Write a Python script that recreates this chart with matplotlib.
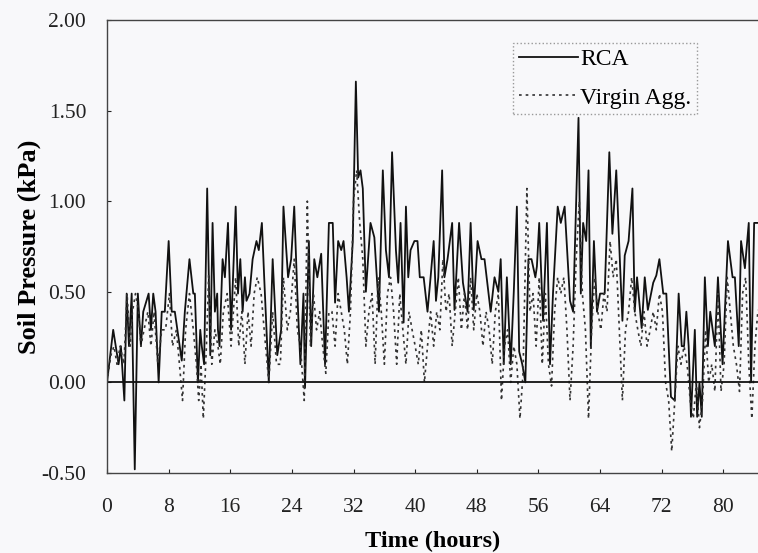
import numpy as np
import matplotlib.pyplot as plt

plt.rcParams['font.family'] = ['Liberation Serif', 'DejaVu Serif']

# RCA readings (time in hours, soil pressure in kPa)
rca_t = [0.0, 0.8, 1.5, 1.8, 2.25, 2.55, 2.85, 3.2, 3.6, 4.0, 4.4, 4.7, 5.4, 5.7,
         6.0, 6.3, 6.7, 7.1, 7.5, 8.0, 8.4, 8.8, 9.7, 10.1, 10.7, 11.2, 11.4, 11.8,
         12.1, 12.3, 12.6, 13.0, 13.4, 13.7, 14.0, 14.3, 14.4, 14.6, 15.0, 15.3,
         15.7, 16.1, 16.7, 17.0, 17.3, 17.6, 17.9, 18.1, 18.5, 18.9, 19.4, 19.7,
         20.1, 20.4, 21.0, 21.5, 22.1, 22.6, 22.9, 23.5, 23.9, 24.3, 24.7, 25.1,
         25.5, 25.7, 26.2, 26.5, 26.9, 27.3, 27.8, 28.3, 28.8, 29.3, 29.6, 30.0,
         30.4, 30.7, 31.1, 31.4, 31.9, 32.3, 32.6, 32.9, 33.2, 33.6, 34.2, 34.7,
         35.3, 35.8, 36.2, 36.6, 37.0, 37.5, 37.8, 38.1, 38.5, 38.8, 39.1, 39.4,
         39.9, 40.3, 40.6, 41.1, 41.6, 42.0, 42.4, 42.7, 43.0, 43.5, 43.8, 44.2,
         44.8, 45.1, 45.7, 46.2, 46.8, 47.2, 47.6, 48.1, 48.6, 49.0, 49.8, 50.3,
         50.8, 51.1, 51.5, 51.9, 52.4, 52.8, 53.2, 53.5, 53.9, 54.3, 54.7, 55.1,
         55.6, 55.8, 56.1, 56.6, 57.1, 57.5, 57.9, 58.5, 58.9, 59.4, 60.1, 60.5,
         61.2, 61.5, 61.8, 62.2, 62.5, 62.8, 63.2, 63.6, 64.0, 64.6, 65.2, 65.6,
         66.1, 66.6, 66.9, 67.2, 67.7, 68.2, 68.5, 68.8, 69.4, 69.8, 70.2, 70.9,
         71.3, 71.7, 72.2, 72.6, 73.2, 73.7, 74.2, 74.6, 74.9, 75.2, 75.5, 75.8,
         76.3, 76.6, 76.9, 77.2, 77.6, 78.0, 78.3, 78.9, 79.3, 79.9, 80.6, 81.2,
         81.5, 82.0, 82.3, 82.8, 83.3, 83.6, 84.0, 84.5]
rca = [0.0, 0.29, 0.1, 0.2, -0.1, 0.49, 0.2, 0.49, -0.48, 0.49, 0.2, 0.39, 0.49, 0.29,
       0.49, 0.39, 0.0, 0.39, 0.39, 0.78, 0.39, 0.39, 0.12, 0.39, 0.68, 0.49, 0.49, 0.0,
       0.29, 0.2, 0.1, 1.07, 0.15, 0.88, 0.39, 0.49, 0.29, 0.2, 0.68, 0.58,
       0.88, 0.29, 0.97, 0.49, 0.68, 0.39, 0.58, 0.45, 0.49, 0.68, 0.78, 0.73,
       0.88, 0.58, 0.0, 0.68, 0.15, 0.29, 0.97, 0.58, 0.68, 0.97, 0.49, 0.1,
       0.49, -0.03, 0.78, 0.2, 0.68, 0.58, 0.71, 0.1, 0.88, 0.88, 0.44, 0.78,
       0.73, 0.78, 0.58, 0.39, 0.78, 1.66, 1.13, 1.17, 1.07, 0.5, 0.88, 0.8,
       0.39, 1.17, 0.73, 0.58, 1.27, 0.73, 0.55, 0.88, 0.33, 0.97, 0.58, 0.73,
       0.78, 0.78, 0.58, 0.58, 0.39, 0.58, 0.78, 0.45, 0.58, 1.17, 0.58, 0.68,
       0.88, 0.4, 0.88, 0.55, 0.39, 0.88, 0.4, 0.78, 0.68, 0.68, 0.39, 0.58,
       0.5, 0.68, 0.1, 0.58, 0.1, 0.5, 0.97, 0.17, 0.1, 0.0, 0.68, 0.68,
       0.58, 0.64, 0.88, 0.34, 0.88, 0.1, 0.5, 0.97, 0.88, 0.97, 0.45, 0.39,
       1.46, 0.49, 0.88, 0.78, 1.17, 0.19, 0.78, 0.39, 0.49, 0.49, 1.27, 0.82,
       1.17, 0.64, 0.34, 0.7, 0.78, 1.07, 0.39, 0.58, 0.3, 0.58, 0.4, 0.55,
       0.59, 0.68, 0.49, 0.49, -0.08, -0.1, 0.49, 0.2, 0.2, 0.39, 0.2, -0.19,
       0.29, -0.19, 0.0, -0.19, 0.58, 0.2, 0.39, 0.2, 0.58, 0.1, 0.78, 0.58,
       0.58, 0.2, 0.78, 0.63, 0.88, 0.0, 0.88, 0.88]

# Virgin aggregate readings
vir_t = [0.0, 0.5, 0.9, 1.3, 1.7, 2.2, 2.6, 3.0, 3.3, 3.7, 4.1, 4.4, 4.8, 5.3, 5.7,
         6.1, 6.6, 7.1, 7.6, 8.1, 8.5, 9.0, 9.4, 9.8, 10.2, 10.7, 11.2, 11.6, 11.9,
         12.2, 12.5, 12.9, 13.2, 13.6, 14.0, 14.4, 14.7, 15.1, 15.6, 16.1, 16.7,
         17.1, 17.5, 17.9, 18.3, 18.7, 19.1, 19.5, 20.0, 20.4, 21.0, 21.5, 22.0,
         22.5, 22.9, 23.4, 23.8, 24.3, 24.7, 25.1, 25.6, 26.0, 26.4, 26.8, 27.2,
         27.6, 28.0, 28.4, 28.8, 29.2, 29.6, 30.0, 30.4, 30.8, 31.2, 31.6, 32.0,
         32.4, 32.8, 33.2, 33.6, 34.0, 34.4, 34.8, 35.2, 35.6, 36.0, 36.4, 36.8,
         37.2, 37.6, 38.0, 38.4, 38.8, 39.2, 39.6, 40.0, 40.4, 40.8, 41.2, 41.6,
         42.0, 42.4, 42.8, 43.2, 43.6, 44.0, 44.4, 44.8, 45.2, 45.6, 46.0, 46.4,
         46.8, 47.2, 47.6, 48.0, 48.4, 48.8, 49.2, 49.6, 50.0, 50.4, 50.8, 51.2,
         51.6, 52.0, 52.4, 52.8, 53.2, 53.6, 54.0, 54.5, 54.9, 55.3, 55.7, 56.1,
         56.5, 56.9, 57.3, 57.7, 58.1, 58.5, 58.9, 59.3, 59.7, 60.1, 60.5, 60.9,
         61.3, 61.7, 62.1, 62.5, 62.9, 63.3, 63.7, 64.1, 64.5, 64.9, 65.3, 65.7,
         66.1, 66.5, 66.9, 67.3, 67.7, 68.1, 68.5, 68.9, 69.3, 69.7, 70.1, 70.5,
         70.9, 71.3, 71.7, 72.1, 72.5, 72.9, 73.3, 73.7, 74.1, 74.5, 74.9, 75.3,
         75.7, 76.1, 76.5, 76.9, 77.3, 77.7, 78.1, 78.5, 78.9, 79.3, 79.7, 80.1,
         80.5, 80.9, 81.3, 81.7, 82.1, 82.5, 82.9, 83.3, 83.7, 84.1, 84.5]
vir = [0.0, 0.15, 0.2, 0.1, 0.2, 0.1, 0.49, 0.2, 0.39, 0.49, 0.39, 0.2, 0.29, 0.39, 0.2,
       0.39, 0.1, 0.29, 0.29, 0.49, 0.2, 0.29, 0.1, -0.1, 0.29, 0.49, 0.29, 0.1, -0.1,
       0.1, -0.2, 0.2, 0.6, 0.1, 0.29, 0.2, 0.1, 0.39, 0.49, 0.2, 0.58,
       0.2, 0.39, 0.1, 0.39, 0.2, 0.49, 0.58, 0.49, 0.29, 0.0, 0.39, 0.1,
       0.1, 0.58, 0.29, 0.39, 0.68, 0.29, 0.2, -0.1, 1.0, 0.2, 0.49, 0.29,
       0.39, 0.2, 0.05, 0.39, 0.39, 0.2, 0.49, 0.39, 0.29, 0.1, 0.39, 1.0,
       1.17, 0.88, 0.68, 0.2, 0.39, 0.49, 0.1, 0.58, 0.39, 0.1, 0.49, 0.58,
       0.39, 0.1, 0.49, 0.29, 0.1, 0.39, 0.29, 0.2, 0.1, 0.29, 0.0, 0.2,
       0.39, 0.2, 0.39, 0.29, 0.68, 0.39, 0.49, 0.2, 0.39, 0.58, 0.29, 0.49,
       0.29, 0.58, 0.29, 0.49, 0.39, 0.2, 0.39, 0.29, 0.1, 0.39, 0.49, -0.1,
       0.2, 0.29, 0.0, 0.2, 0.1, -0.2, 0.05, 1.07, 0.39, 0.49, 0.2, 0.58,
       0.1, 0.49, 0.1, -0.02, 0.39, 0.58, 0.49, 0.58, 0.29, -0.1, 0.2, 0.68,
       1.0, 0.49, 0.29, -0.2, 0.29, 0.58, 0.39, 0.29, 0.49, 0.39, 0.78, 0.58,
       0.68, 0.29, -0.1, 0.29, 0.39, 0.58, 0.39, 0.29, 0.2, 0.39, 0.2, 0.29,
       0.39, 0.29, 0.49, 0.39, 0.0, -0.1, -0.38, -0.1, 0.2, 0.1, 0.2, 0.1,
       -0.1, -0.2, 0.0, -0.25, -0.1, 0.29, 0.0, 0.1, -0.05, 0.49, -0.05, 0.1,
       0.58, 0.39, 0.2, 0.1, -0.05, 0.49, 0.58, 0.1, -0.2, 0.2, 0.4]

xticks = [0, 8, 16, 24, 32, 40, 48, 56, 64, 72, 80]
yticks = [-0.5, 0.0, 0.5, 1.0, 1.5, 2.0]

fig = plt.figure(figsize=(7.58, 5.53), dpi=100, facecolor='#f8f8fa')
ax = fig.add_axes([0.1412, 0.1447, 0.8588, 0.8192], facecolor='#f8f8fa')

ax.plot(rca_t, rca, color='#111111', lw=1.3, label='RCA')
ax.plot(vir_t, vir, color='#333333', lw=1.2, dashes=(1.6, 2.4), label='Virgin Agg.')
ax.axhline(0, color='#111111', lw=1.3)

ax.set_xlim(0, 84.5)
ax.set_ylim(-0.5, 2.0)
ax.set_xticks(xticks)
ax.set_yticks(yticks)
ax.set_yticklabels([f'{v:.2f}' for v in yticks])
ax.tick_params(direction='in', length=3, labelsize=15.5, colors='#222222')
ax.tick_params(axis='y', pad=15)
ax.tick_params(axis='x', pad=18)
ax.spines['right'].set_visible(False)
for s in ['left', 'top', 'bottom']:
    ax.spines[s].set_color('#444444')
    ax.spines[s].set_linewidth(1.0)

ax.set_xlabel('Time (hours)', fontsize=17.5, fontweight='bold', labelpad=10)
ax.set_ylabel('Soil Pressure (kPa)', fontsize=19, fontweight='bold', labelpad=0)

leg = ax.legend(loc='upper left', bbox_to_anchor=(0.6237, 0.949), fontsize=17,
                handlelength=2.5, handletextpad=0.1, borderpad=0.25,
                labelspacing=0.7, borderaxespad=0, fancybox=False, framealpha=1)
leg.get_frame().set_facecolor('#f8f8fa')
leg.get_frame().set_edgecolor('#999999')
leg.get_frame().set_linestyle(':')

fig.savefig('out.png', dpi=100, facecolor=fig.get_facecolor())
